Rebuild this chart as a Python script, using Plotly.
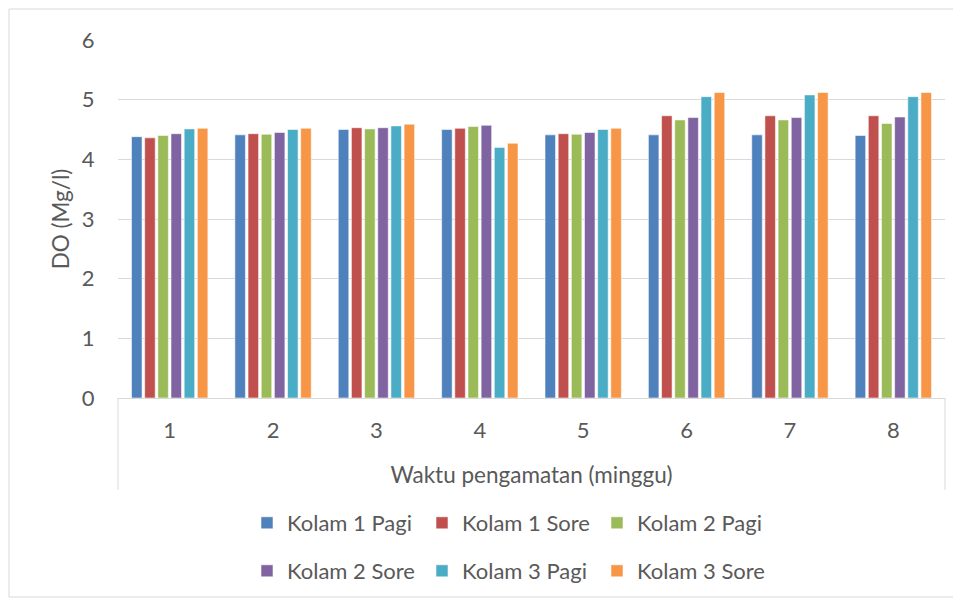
import plotly.graph_objects as go

weeks = ["1", "2", "3", "4", "5", "6", "7", "8"]
series_names = ["Kolam 1 Pagi", "Kolam 1 Sore", "Kolam 2 Pagi",
                "Kolam 2 Sore", "Kolam 3 Pagi", "Kolam 3 Sore"]
kolam1_pagi = [4.38, 4.41, 4.50, 4.50, 4.41, 4.41, 4.41, 4.40]
kolam1_sore = [4.36, 4.43, 4.53, 4.52, 4.43, 4.73, 4.73, 4.73]
kolam2_pagi = [4.40, 4.42, 4.51, 4.55, 4.42, 4.66, 4.66, 4.60]
kolam2_sore = [4.43, 4.45, 4.53, 4.57, 4.45, 4.70, 4.70, 4.71]
kolam3_pagi = [4.51, 4.50, 4.56, 4.20, 4.50, 5.05, 5.08, 5.05]
kolam3_sore = [4.52, 4.52, 4.59, 4.27, 4.52, 5.12, 5.12, 5.12]
y_ticks = [0, 1, 2, 3, 4, 5, 6]

values = [kolam1_pagi, kolam1_sore, kolam2_pagi, kolam2_sore, kolam3_pagi, kolam3_sore]
colors = ["#4F81BD", "#C0504D", "#9BBB59", "#8064A2", "#4BACC6", "#F79646"]

FONT = "Lato"
TXT = "#595959"

fig = go.Figure()
for i, (name, vals) in enumerate(zip(series_names, values)):
    fig.add_trace(go.Bar(
        x=weeks, y=vals, name=name,
        marker=dict(color=colors[i], line=dict(color="rgba(255,255,255,0.55)", width=1)),
        legend="legend" if i < 3 else "legend2",
    ))

# page body has an 8px margin; work in screen pixels and convert
OFF = 8
W, H = 961 - OFF, 601 - OFF
SX0, SX1, SY0, SY1 = 118, 945, 40, 398  # plot area in screen px
L, R, T, B = SX0 - OFF, W - (SX1 - OFF), SY0 - OFF, H - (SY1 - OFF)
pw, ph = W - L - R, H - T - B

def px_x(p):
    return (p - OFF - L) / pw

def px_y(p):
    return (H - B - (p - OFF)) / ph

legend_common = dict(
    orientation="h", xanchor="left", yanchor="middle",
    font=dict(family=FONT, size=22, color=TXT),
    entrywidth=130, entrywidthmode="pixels",
    itemwidth=30, bgcolor="rgba(0,0,0,0)",
)

fig.update_layout(
    width=W, height=H,
    margin=dict(l=L, r=R, t=T, b=B, autoexpand=False),
    paper_bgcolor="white", plot_bgcolor="white",
    barmode="group", bargap=0.236, bargroupgap=0.2,
    font=dict(family=FONT, color=TXT),
    legend=dict(x=px_x(247), y=px_y(523), **legend_common),
    legend2=dict(x=px_x(247), y=px_y(571), **legend_common),
    xaxis=dict(
        type="category",
        showgrid=False, showline=True, linecolor="#D9D9D9", linewidth=1,
        ticks="outside", ticklen=13, tickcolor="rgba(0,0,0,0)",
        tickfont=dict(family=FONT, size=22, color=TXT),
        title=dict(text="Waktu pengamatan (minggu)", font=dict(family=FONT, size=22.5, color=TXT), standoff=24),
    ),
    yaxis=dict(
        range=[0, 6], tickvals=y_ticks,
        showgrid=True, gridcolor="#D9D9D9", gridwidth=1,
        zeroline=False, showline=False,
        ticks="outside", ticklen=18, tickcolor="rgba(0,0,0,0)",
        tickfont=dict(family=FONT, size=22, color=TXT),
        title=dict(text="DO (Mg/l)", font=dict(family=FONT, size=22.5, color=TXT), standoff=5),
    ),
    showlegend=True,
)

# category axis box lines and outer frame
fig.add_shape(type="line", xref="paper", yref="paper", x0=0, x1=0, y0=0, y1=px_y(490),
              line=dict(color="#D9D9D9", width=1))
fig.add_shape(type="line", xref="paper", yref="paper", x0=1, x1=1, y0=0, y1=px_y(490),
              line=dict(color="#D9D9D9", width=1))
fig.add_shape(type="rect", xref="paper", yref="paper",
              x0=px_x(9), x1=px_x(958), y0=px_y(597), y1=px_y(9),
              line=dict(color="#D9D9D9", width=1), layer="below")

fig.write_html("out.html")
